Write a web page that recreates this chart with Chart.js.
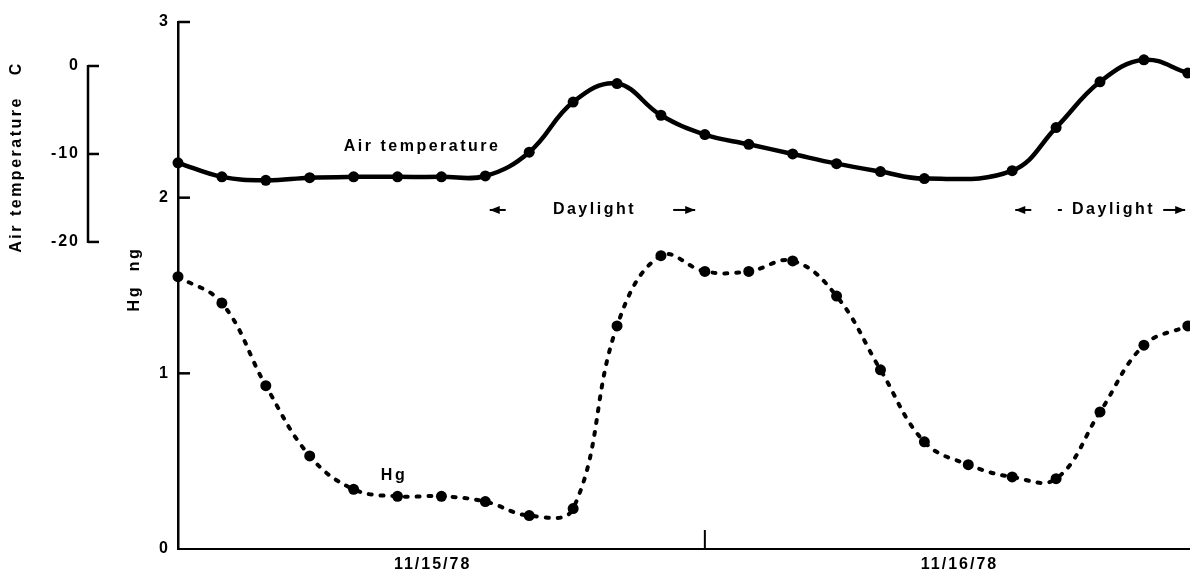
<!DOCTYPE html>
<html lang="en">
<head>
  <meta charset="UTF-8">
  <title>Hg and air temperature</title>
  <script src="https://cdn.jsdelivr.net/npm/chart.js"></script>
  <style>
    body { margin: 0; background: #fff; }
    canvas { display: block; }
  </style>
</head>
<body>
<canvas id="hgChart" width="1190" height="582"></canvas>
<script>
  // sample number (hourly samples), 0 = first sample on 11/15/78
  const sampleIdx = [0, 1, 2, 3, 4, 5, 6, 7, 8, 9, 10, 11, 12, 13, 14, 15, 16, 17, 18, 19, 20, 21, 22, 23];
  // air temperature, deg C (sample 18 has no point)
  const airTemp = [-11.0, -12.6, -13.0, -12.7, -12.6, -12.6, -12.6, -12.5, -9.8, -4.1, -2.0, -5.6,
                   -7.8, -8.9, -10.0, -11.1, -12.0, -12.8, null, -11.9, -7.0, -1.8, 0.7, -0.8];
  // Hg, ng
  const hgNg = [1.55, 1.40, 0.93, 0.53, 0.34, 0.30, 0.30, 0.27, 0.19, 0.23, 1.27, 1.67,
                1.58, 1.58, 1.64, 1.44, 1.02, 0.61, 0.48, 0.41, 0.40, 0.78, 1.16, 1.27];

  const hgTicks = [0, 1, 2, 3];
  const tempTicks = [-20, -10, 0];
  const dateTickPos = [5.8, 17.8];
  const dateLabels = ['11/15/78', '11/16/78'];
  const midnightIdx = 12;
  const daylightStart = [7.1, 19.07];
  const daylightEnd = [11.78, 22.94];
  const daylightText = ['Daylight', '- Daylight'];

  const FONT = '"Liberation Sans", Arial, sans-serif';

  function line(ctx, x1, y1, x2, y2) {
    ctx.beginPath();
    ctx.moveTo(x1, y1);
    ctx.lineTo(x2, y2);
    ctx.stroke();
  }

  function arrow(ctx, tip, y, dir, len) {
    line(ctx, tip, y, tip - dir * len, y);
    ctx.beginPath();
    ctx.moveTo(tip, y);
    ctx.lineTo(tip - dir * 10, y - 4);
    ctx.lineTo(tip - dir * 10, y + 4);
    ctx.closePath();
    ctx.fill();
  }

  // keep tick labels from pushing the chart area around
  function fixBox(width) {
    return s => {
      s.width = width;
      s.paddingTop = 0;
      s.paddingBottom = 0;
    };
  }

  const decor = {
    id: 'decor',
    beforeDraw(chart) {
      chart.ctx.letterSpacing = '2px';
    },
    afterDraw(chart) {
      const { ctx, chartArea, scales } = chart;
      const xs = scales.x, hs = scales.y, ts = scales.y2;
      ctx.save();
      ctx.strokeStyle = '#000';
      ctx.fillStyle = '#000';
      ctx.lineWidth = 2.5;

      // inward tick marks on the Hg axis
      hgTicks.forEach(v => {
        if (v === 0) return;
        const py = hs.getPixelForValue(v);
        line(ctx, chartArea.left, py, chartArea.left + 12, py);
      });

      // short air temperature axis
      const ax = 88;
      line(ctx, ax, ts.getPixelForValue(-20) + 1, ax, ts.getPixelForValue(0) - 1);
      tempTicks.forEach(v => {
        const py = ts.getPixelForValue(v);
        line(ctx, ax, py, ax + 11, py);
      });

      // midnight tick on the time axis
      ctx.lineWidth = 2;
      const mx = xs.getPixelForValue(midnightIdx);
      line(ctx, mx, chartArea.bottom, mx, chartArea.bottom - 19);

      // labels
      ctx.letterSpacing = '2.5px';
      ctx.font = 'bold 16px ' + FONT;
      ctx.textAlign = 'center';
      ctx.textBaseline = 'middle';
      ctx.fillText('Air temperature', xs.getPixelForValue(5.56), ts.getPixelForValue(-9.2));
      ctx.fillText('Hg', xs.getPixelForValue(4.92), hs.getPixelForValue(0.42));

      const dy = hs.getPixelForValue(1.93);
      daylightStart.forEach((s, i) => {
        const x1 = xs.getPixelForValue(s);
        const x2 = xs.getPixelForValue(daylightEnd[i]);
        arrow(ctx, x1, dy, -1, 16);
        arrow(ctx, x2, dy, 1, 22);
        ctx.fillText(daylightText[i], (x1 + x2) / 2 + (i === 0 ? 2 : 6), dy);
      });

      // axis titles
      ctx.save();
      ctx.translate(135, 279);
      ctx.rotate(-Math.PI / 2);
      ctx.fillText('Hg  ng', 0, 0);
      ctx.restore();

      ctx.save();
      ctx.translate(17, 157);
      ctx.rotate(-Math.PI / 2);
      ctx.fillText('Air temperature   C', 0, 0);
      ctx.restore();

      ctx.restore();
    }
  };

  new Chart(document.getElementById('hgChart'), {
    type: 'line',
    data: {
      datasets: [{
        label: 'Air temperature',
        yAxisID: 'y2',
        data: sampleIdx.map((x, i) => ({ x: x, y: airTemp[i] })),
        borderColor: '#000',
        backgroundColor: '#000',
        borderWidth: 4.5,
        pointRadius: 5.5,
        pointBackgroundColor: '#000',
        pointBorderWidth: 0,
        tension: 0.4,
        spanGaps: true,
        clip: false
      }, {
        label: 'Hg',
        yAxisID: 'y',
        data: sampleIdx.map((x, i) => ({ x: x, y: hgNg[i] })),
        borderColor: '#000',
        backgroundColor: '#000',
        borderWidth: 4,
        borderDash: [3, 9],
        borderCapStyle: 'round',
        pointRadius: 5.5,
        pointBackgroundColor: '#000',
        pointBorderWidth: 0,
        tension: 0.4,
        clip: false
      }]
    },
    options: {
      responsive: false,
      animation: false,
      devicePixelRatio: 1,
      layout: { autoPadding: false, padding: { top: 22, right: 0, left: 0, bottom: 0 } },
      plugins: {
        legend: { display: false },
        tooltip: { enabled: false }
      },
      scales: {
        x: {
          type: 'linear',
          min: 0,
          max: 23.05,
          grid: { display: false, drawTicks: false },
          border: { display: true, color: '#000', width: 2 },
          afterBuildTicks: s => { s.ticks = dateTickPos.map(v => ({ value: v })); },
          afterFit: s => { s.height = 33; },
          ticks: {
            autoSkip: false,
            maxRotation: 0,
            padding: 6,
            color: '#000',
            font: { family: FONT, size: 16, weight: 'bold' },
            callback: (v, i) => dateLabels[i]
          }
        },
        y: {
          position: 'left',
          weight: 0,
          min: 0,
          max: 3,
          grid: { display: false, drawTicks: false },
          border: { display: true, color: '#000', width: 2.5 },
          afterBuildTicks: s => { s.ticks = hgTicks.map(v => ({ value: v })); },
          afterFit: fixBox(78),
          ticks: {
            padding: 8,
            color: '#000',
            font: { family: FONT, size: 16, weight: 'bold' }
          }
        },
        y2: {
          position: 'left',
          weight: 1,
          min: -54.9,
          max: 5.0,
          grid: { display: false, drawTicks: false },
          border: { display: false },
          afterBuildTicks: s => { s.ticks = tempTicks.map(v => ({ value: v })); },
          afterFit: fixBox(100),
          ticks: {
            padding: 20,
            color: '#000',
            font: { family: FONT, size: 16, weight: 'bold' }
          }
        }
      }
    },
    plugins: [decor]
  });
</script>
</body>
</html>
